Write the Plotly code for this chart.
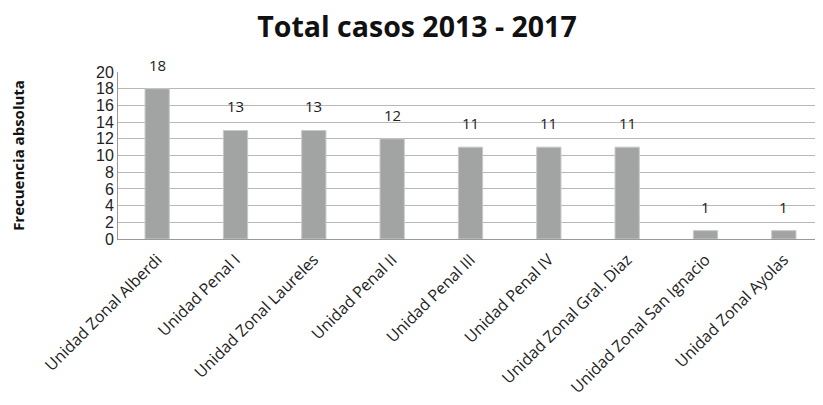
import plotly.graph_objects as go

categories = ["Unidad Zonal Alberdi", "Unidad Penal I", "Unidad Zonal Laureles", "Unidad Penal II",
              "Unidad Penal III", "Unidad Penal IV", "Unidad Zonal Gral. Diaz",
              "Unidad Zonal San Ignacio", "Unidad Zonal Ayolas"]
values = [18, 13, 13, 12, 11, 11, 11, 1, 1]
y_ticks = list(range(0, 21, 2))

W, H = 815, 397

fig = go.Figure()
fig.add_trace(go.Bar(
    x=categories, y=values,
    marker=dict(color="#a2a4a4", line=dict(color="#c8c8c8", width=1)),
))
for c, v in zip(categories, values):
    fig.add_annotation(x=c, y=v, text=str(v), showarrow=False, yshift=24,
                       font=dict(family="Open Sans, Liberation Sans", size=15, color="#222222"))

fig.update_layout(
    width=W, height=H,
    margin=dict(l=110, r=0, t=64, b=166),
    paper_bgcolor="white", plot_bgcolor="white",
    bargap=0.69,
    showlegend=False,
    title=dict(text="<b>Total casos 2013 - 2017</b>", x=409 / W, xref="container", xanchor="center",
               y=1 - 19 / H, yref="container", yanchor="middle",
               font=dict(family="Open Sans, Liberation Sans", size=28.5, color="#111111")),
    font=dict(family="Open Sans, Liberation Sans", size=13, color="#222222"),
)
fig.update_xaxes(tickangle=-45, showline=True, linecolor="#999999", linewidth=1, automargin=False,
                 ticks="", ticklabelstandoff=4,
                 tickfont=dict(size=16, family="Open Sans, Liberation Sans", color="#222222"))
fig.update_yaxes(range=[0, 20], tickvals=y_ticks, showgrid=True, gridcolor="#b8b8b8", gridwidth=1,
                 automargin=False,
                 showline=True, linecolor="#999999", linewidth=1, ticks="outside", ticklen=0,
                 tickfont=dict(size=16, family="Liberation Sans, Arial", color="#222222"),
                 title=dict(text="<b>Frecuencia absoluta</b>", standoff=78,
                            font=dict(size=15, family="Open Sans, Liberation Sans", color="#111111")))

fig.write_html("out.html")
